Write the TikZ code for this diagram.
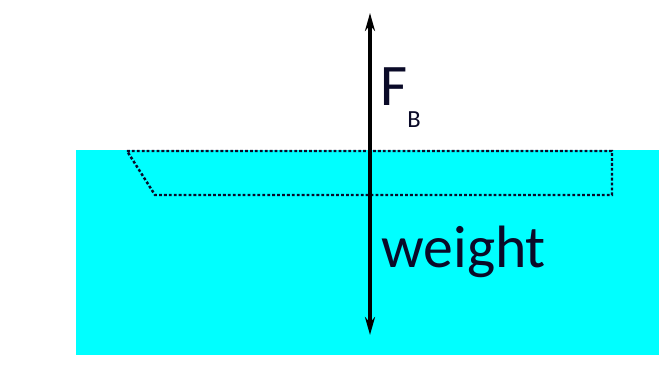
\documentclass[tikz,border=0pt]{standalone}
\usepackage{fontspec}
\setmainfont{Carlito}
\usepackage{xcolor}
\definecolor{waterColor}{HTML}{00FFFF}
\definecolor{textColor}{HTML}{0A0A28}
\usepackage{tikz}
\usetikzlibrary{arrows.meta, positioning}

\begin{document}
\begin{tikzpicture}[>={Stealth[length=0.36cm, width=0.2cm]}]
        \useasboundingbox (0, 0) rectangle (13.18, 7.8);

        % Water (x from 1.52 to right edge)
        \path[fill=waterColor] (1.52, 0.7) rectangle (13.18, 4.8);

        % Boat outline (dotted, top at water line)
        \draw[textColor, line width=1.4pt, dash pattern=on 1.6pt off 1.2pt]
            (2.54, 4.78) -- (12.24, 4.78) -- (12.24, 3.9) -- (3.1, 3.9) -- cycle;

        % Force arrow (both ends)
        \coordinate (top) at (7.4, 7.54);
        \coordinate (bot) at (7.4, 1.1);
        \draw[<->, line width=2.2pt, black] (bot) -- (top);

        % Labels
        \node[anchor=base west, inner sep=0pt, text=textColor, font=\fontsize{33.5}{38}\selectfont] (fb) at (7.6, 5.68)
            {F\raisebox{-12.5pt}{\fontsize{14}{14}\selectfont B}};
        \node[anchor=base west, inner sep=0pt, text=textColor, font=\fontsize{34}{38}\selectfont] (weight) at (7.62, 2.44) {weight};
    \end{tikzpicture}
\end{document}
